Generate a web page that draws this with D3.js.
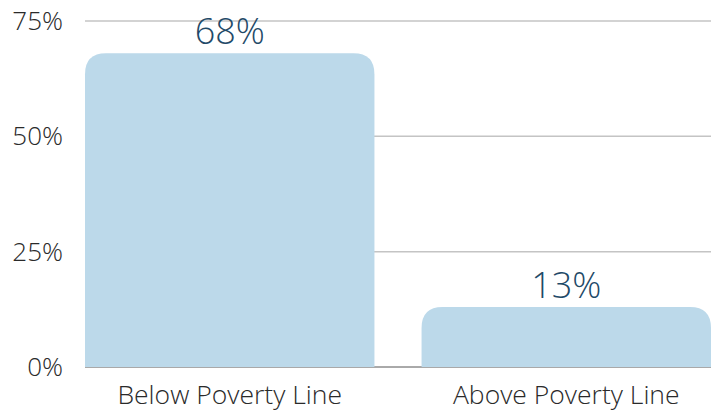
<!DOCTYPE html>
<html><head><meta charset="utf-8">
<script src="https://cdn.jsdelivr.net/npm/d3@7"></script>
<style>
html,body{margin:0;padding:0;background:#fff;}
svg{display:block;font-family:"Open Sans",sans-serif;}
</style></head>
<body><svg id="c" width="724" height="412"></svg>
<script>
const categories = ["Below Poverty Line", "Above Poverty Line"];
const values = [68, 13];
const yTicks = [0, 25, 50, 75];

const svg = d3.select("#c");
const margin = {left: 85, right: 13, top: 21, bottom: 45};
const W = 724, H = 412;
const x = d3.scaleBand().domain(categories).range([margin.left, W - margin.right]).paddingInner(0.14).paddingOuter(0);
const y = d3.scaleLinear().domain([0, 75]).range([H - margin.bottom, margin.top]);

// gridlines
svg.append("g").selectAll("line").data(yTicks.filter(d => d > 0)).join("line")
  .attr("x1", margin.left).attr("x2", W - margin.right)
  .attr("y1", d => y(d)).attr("y2", d => y(d))
  .attr("stroke", "#c4c4c4").attr("stroke-width", 1.5);
// baseline
svg.append("line").attr("x1", margin.left).attr("x2", W - margin.right)
  .attr("y1", y(0)).attr("y2", y(0)).attr("stroke", "#555").attr("stroke-width", 1);

// y tick labels
svg.append("g").selectAll("text").data(yTicks).join("text")
  .attr("x", 63).attr("y", d => y(d)).attr("dy", "0.35em")
  .attr("text-anchor", "end").attr("font-size", 26).attr("font-weight", 300)
  .attr("fill", "#2a2a2a").text(d => d + "%");

// bars with rounded top corners
const r = 21;
function barPath(x0, w, yt, yb) {
  const rr = Math.min(r, (yb - yt), w / 2);
  return `M${x0},${yb}V${yt + rr}Q${x0},${yt} ${x0 + rr},${yt}H${x0 + w - rr}Q${x0 + w},${yt} ${x0 + w},${yt + rr}V${yb}Z`;
}
const data = categories.map((c, i) => ({c, v: values[i]}));
svg.append("g").selectAll("path").data(data).join("path")
  .attr("d", d => barPath(x(d.c), x.bandwidth(), y(d.v), y(0)))
  .attr("fill", "#bcd9ea");

// value labels
svg.append("g").selectAll("text").data(data).join("text")
  .attr("x", d => x(d.c) + x.bandwidth() / 2).attr("y", d => y(d.v) - 9)
  .attr("text-anchor", "middle").attr("font-size", 36).attr("font-weight", 300)
  .attr("fill", "#1f4a68").text(d => d.v + "%");

// category labels
svg.append("g").selectAll("text").data(categories).join("text")
  .attr("x", d => x(d) + x.bandwidth() / 2).attr("y", 404)
  .attr("text-anchor", "middle").attr("font-size", 26.5).attr("font-weight", 300)
  .attr("fill", "#2a2a2a").text(d => d);
</script></body></html>
